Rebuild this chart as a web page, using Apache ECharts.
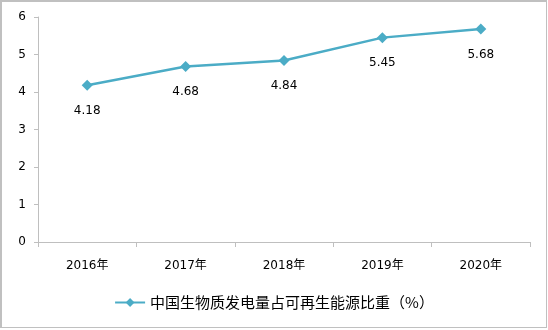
<!DOCTYPE html>
<html><head><meta charset="utf-8">
<script src="https://cdn.jsdelivr.net/npm/echarts@6/dist/echarts.min.js"></script>
<style>
html,body{margin:0;padding:0;background:#fff;}
#c{position:absolute;left:0;top:0;width:544px;height:325px;border-style:solid;border-color:#C0C0C0;border-width:2px 1px 1px 2px;}
</style></head>
<body><div id="c"></div>
<script>
const categories = ['2016年','2017年','2018年','2019年','2020年'];
const values = [4.18, 4.68, 4.84, 5.45, 5.68];
const seriesName = '中国生物质发电量占可再生能源比重（%）';
const font = '"DejaVu Sans", "Noto Sans CJK SC", sans-serif';
const cjk = '"Noto Sans CJK SC", sans-serif';
const chart = echarts.init(document.getElementById('c'), null, {renderer:'canvas'});
chart.setOption({
  animation:false,
  grid:{left:36, right:16, top:15, bottom:85, containLabel:false},
  xAxis:{type:'category', data:categories, boundaryGap:true,
    axisLine:{lineStyle:{color:'#BFBFBF', width:1}},
    axisTick:{show:true, alignWithLabel:false, length:5, lineStyle:{color:'#BFBFBF'}},
    axisLabel:{color:'#000', fontSize:12, fontFamily:font, margin:18}},
  yAxis:{type:'value', min:0, max:6, interval:1,
    axisLine:{show:true, lineStyle:{color:'#BFBFBF'}},
    axisTick:{show:true, length:4, lineStyle:{color:'#BFBFBF'}},
    splitLine:{show:false},
    axisLabel:{color:'#000', fontSize:12, fontFamily:font, margin:12}},
  legend:{bottom:12, left:'center', itemWidth:30, itemHeight:11, itemGap:10,
    textStyle:{color:'#000', fontSize:15, fontFamily:cjk}},
  series:[{name:seriesName, type:'line', data:values,
    symbol:'diamond', symbolSize:11,
    lineStyle:{color:'#4BACC6', width:2.5},
    itemStyle:{color:'#4BACC6'},
    label:{show:true, position:'bottom', distance:14, color:'#000', fontSize:12, fontFamily:font}}]
});
</script></body></html>
